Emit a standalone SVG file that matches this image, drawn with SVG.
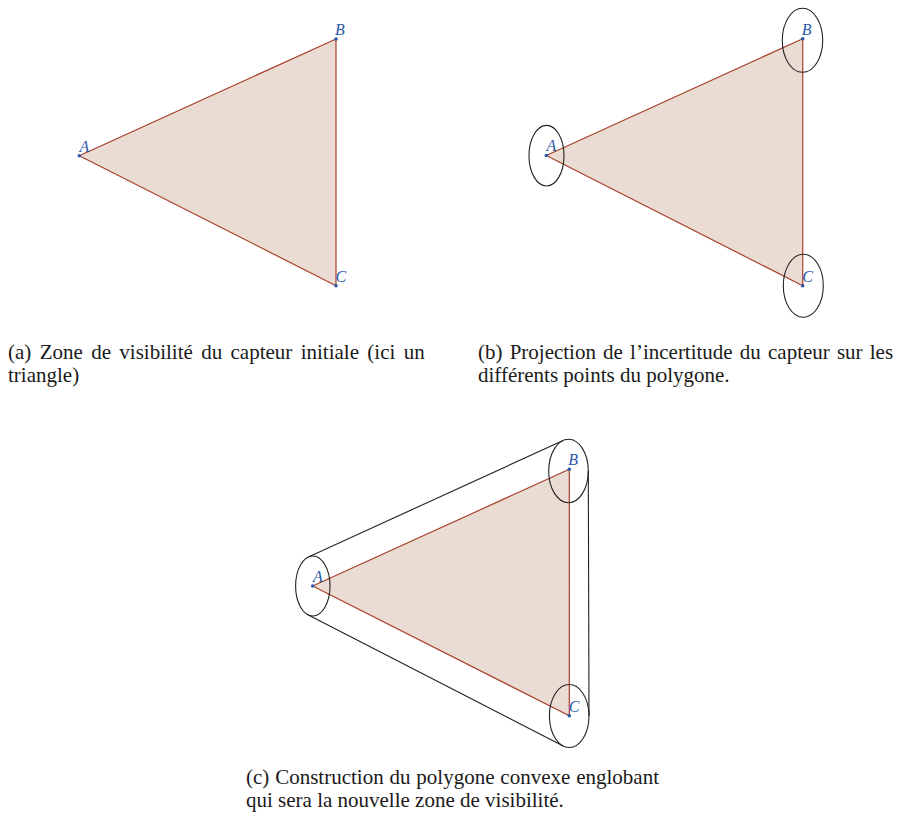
<svg xmlns="http://www.w3.org/2000/svg" width="897" height="820" viewBox="0 0 897 820">
<style>
.tri{fill:#ebdcd3;stroke:#a8402c;stroke-width:1.2;stroke-linejoin:round}
.ell{fill:none;stroke:#222;stroke-width:1.1}
.hull{fill:none;stroke:#222;stroke-width:1.1}
.pt{fill:#2b58a8}
.lbl{font-family:"Liberation Serif",serif;font-style:italic;font-size:16px;fill:#2b58a8}
.cap{font-family:"Liberation Serif",serif;font-size:21px;fill:#1a1a1a}
</style>
<rect width="897" height="820" fill="#ffffff"/>

<g id="panel-a">
  <polygon class="tri" points="79.3,155.7 336,39 336,285.7"/>
  <g id="a-A"><circle class="pt" cx="79.3" cy="155.7" r="1.8"/><text class="lbl" x="79.5" y="151.5">A</text></g>
  <g id="a-B"><circle class="pt" cx="336" cy="39" r="1.8"/><text class="lbl" x="335" y="35">B</text></g>
  <g id="a-C"><circle class="pt" cx="336" cy="285.7" r="1.8"/><text class="lbl" x="335.5" y="281.7">C</text></g>
</g>

<g id="panel-b">
  <polygon class="tri" points="546.3,155.5 802.7,38.7 802.7,285.7"/>
  <g id="b-A"><ellipse class="ell" cx="546.5" cy="155.7" rx="17.5" ry="30.3"/><circle class="pt" cx="546.3" cy="155.5" r="1.8"/><text class="lbl" x="546.5" y="151.3">A</text></g>
  <g id="b-B"><ellipse class="ell" cx="802.5" cy="40.3" rx="20.2" ry="32"/><circle class="pt" cx="802.7" cy="38.7" r="1.8"/><text class="lbl" x="801.7" y="34.7">B</text></g>
  <g id="b-C"><ellipse class="ell" cx="803.3" cy="285.8" rx="20" ry="31.5"/><circle class="pt" cx="802.7" cy="285.7" r="1.8"/><text class="lbl" x="802.2" y="281.7">C</text></g>
</g>

<g id="panel-c">
  <polygon class="tri" points="312.7,586 569.3,469.3 569.3,715.7"/>
  <g id="connectors">
    <line class="hull" x1="308.4" y1="557" x2="563.1" y2="440.5"/>
    <line class="hull" x1="588.3" y1="471" x2="589" y2="716"/>
    <line class="hull" x1="307.9" y1="614.8" x2="563.2" y2="746"/>
  </g>
  <g id="c-A"><ellipse class="ell" cx="312.8" cy="586" rx="17.2" ry="30"/><circle class="pt" cx="312.7" cy="586" r="1.8"/><text class="lbl" x="312.9" y="581.8">A</text></g>
  <g id="c-B"><ellipse class="ell" cx="568.5" cy="471" rx="19.8" ry="31.7"/><circle class="pt" cx="569.3" cy="469.3" r="1.8"/><text class="lbl" x="568.3" y="465.3">B</text></g>
  <g id="c-C"><ellipse class="ell" cx="569.2" cy="716" rx="19.8" ry="31.5"/><circle class="pt" cx="569.3" cy="715.7" r="1.8"/><text class="lbl" x="568.8" y="711.7">C</text></g>
</g>

<g id="captions">
  <text class="cap" x="8" y="359" word-spacing="3.1">(a) Zone de visibilité du capteur initiale (ici un</text>
  <text class="cap" x="8" y="382">triangle)</text>
  <text class="cap" x="478" y="359" word-spacing="1.9">(b) Projection de l’incertitude du capteur sur les</text>
  <text class="cap" x="478" y="382">différents points du polygone.</text>
  <text class="cap" x="246" y="784" word-spacing="0.6">(c) Construction du polygone convexe englobant</text>
  <text class="cap" x="246" y="807">qui sera la nouvelle zone de visibilité.</text>
</g>
</svg>
